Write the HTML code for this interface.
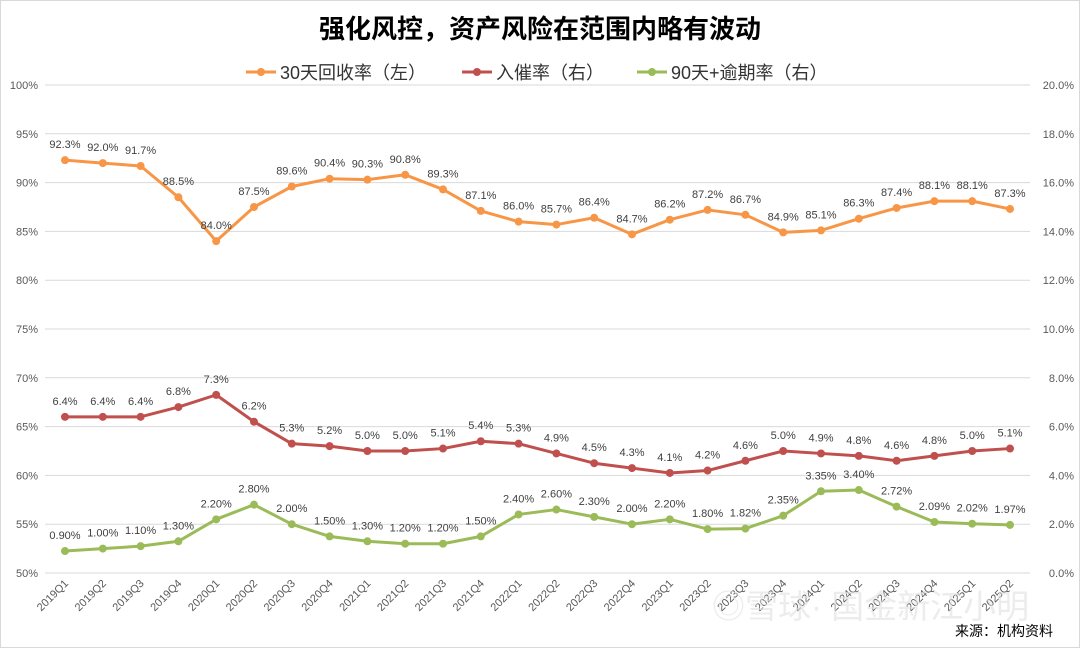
<!DOCTYPE html>
<html><head><meta charset="utf-8">
<style>
body{margin:0;background:#fff;}
svg{display:block;font-family:"Liberation Sans","Noto Sans CJK SC",sans-serif;}
</style></head>
<body>
<svg id="chart" width="1080" height="648">
<rect x="0.5" y="0.5" width="1079" height="647" fill="#fff" stroke="#d9d9d9"/>
<text x="540" y="38" text-anchor="middle" font-size="26" font-weight="bold" fill="#000">强化风控，资产风险在范围内略有波动</text>
<g>
<g><line x1="246" y1="72" x2="276" y2="72" stroke="#F79646" stroke-width="3"/><circle cx="261" cy="72" r="4" fill="#F79646"/><text x="280" y="79" font-size="18" fill="#333">30天回收率（左）</text></g>
<g><line x1="462" y1="72" x2="492" y2="72" stroke="#C0504D" stroke-width="3"/><circle cx="477" cy="72" r="4" fill="#C0504D"/><text x="496" y="79" font-size="18" fill="#333">入催率（右）</text></g>
<g><line x1="637" y1="72" x2="667" y2="72" stroke="#9BBB59" stroke-width="3"/><circle cx="652" cy="72" r="4" fill="#9BBB59"/><text x="671" y="79" font-size="18" fill="#333">90天+逾期率（右）</text></g>
</g>
<g id="grid"></g><g id="axes"></g><g id="series"></g>
<text x="712" y="618" font-size="33" fill="#e0e0e0" opacity="0.6">◎雪球· 国金新江小明</text>
<text x="955" y="636" font-size="14" fill="#000">来源：机构资料</text>
</svg>
<script>
const categories=["2019Q1","2019Q2","2019Q3","2019Q4","2020Q1","2020Q2","2020Q3","2020Q4","2021Q1","2021Q2","2021Q3","2021Q4","2022Q1","2022Q2","2022Q3","2022Q4","2023Q1","2023Q2","2023Q3","2023Q4","2024Q1","2024Q2","2024Q3","2024Q4","2025Q1","2025Q2"];
const recovery30=[92.3,92.0,91.7,88.5,84.0,87.5,89.6,90.4,90.3,90.8,89.3,87.1,86.0,85.7,86.4,84.7,86.2,87.2,86.7,84.9,85.1,86.3,87.4,88.1,88.1,87.3];
const entryRate=[6.4,6.4,6.4,6.8,7.3,6.2,5.3,5.2,5.0,5.0,5.1,5.4,5.3,4.9,4.5,4.3,4.1,4.2,4.6,5.0,4.9,4.8,4.6,4.8,5.0,5.1];
const overdue90=[0.90,1.00,1.10,1.30,2.20,2.80,2.00,1.50,1.30,1.20,1.20,1.50,2.40,2.60,2.30,2.00,2.20,1.80,1.82,2.35,3.35,3.40,2.72,2.09,2.02,1.97];
const leftTicks=[50,55,60,65,70,75,80,85,90,95,100];
const rightTicks=[0,2,4,6,8,10,12,14,16,18,20];
const NS="http://www.w3.org/2000/svg";
const plotTop=85,plotBot=573,x0=65,x1=1010,gx0=45,gx1=1030;
const xs=i=>x0+i*(x1-x0)/(categories.length-1);
const yL=v=>plotBot-(v-50)/50*(plotBot-plotTop);
const yR=v=>plotBot-v/20*(plotBot-plotTop);
function mk(tag,attrs,parent,txt){const e=document.createElementNS(NS,tag);for(const k in attrs)e.setAttribute(k,attrs[k]);if(txt!==undefined)e.textContent=txt;parent.appendChild(e);return e;}
const grid=document.getElementById('grid'),axes=document.getElementById('axes'),series=document.getElementById('series');
leftTicks.forEach(t=>{const y=yL(t);
 const l=mk('line',{x1:gx0,x2:gx1,y1:y,y2:y,stroke:'#d9d9d9','stroke-width':1},grid);
 
 
 const tx=mk('text',{x:38,y:y+4,'text-anchor':'end','font-size':11,fill:'#595959'},axes,t+'%');
 
 
});
rightTicks.forEach(t=>{const y=yR(t);
 const tx=mk('text',{x:1074,y:y+4,'text-anchor':'end','font-size':11,fill:'#595959'},axes,t.toFixed(1)+'%');
 
 
});
categories.forEach((c,i)=>{const x=xs(i)+4,y=584;
 const tx=mk('text',{x:x,y:y,'text-anchor':'end','font-size':11,fill:'#595959',transform:`rotate(-45 ${x} ${y})`},axes,c);
 
 
});
function drawSeries(vals,yf,color,name,fmt){
 const g=mk('g',{},series);
 
 
 const pl=mk('polyline',{points:vals.map((v,i)=>xs(i)+','+yf(v)).join(' '),fill:'none',stroke:color,'stroke-width':3,'stroke-linejoin':'round'},g);
 
 
 vals.forEach((v,i)=>{
  const c=mk('circle',{cx:xs(i),cy:yf(v),r:4,fill:color},g);
  
  
  const t=mk('text',{x:xs(i),y:yf(v)-12,'text-anchor':'middle','font-size':11,fill:'#404040'},g,fmt(v));
  
  
 });
}
drawSeries(recovery30,yL,'#F79646','recovery30',v=>v.toFixed(1)+'%');
drawSeries(entryRate,yR,'#C0504D','entry-rate',v=>v.toFixed(1)+'%');
drawSeries(overdue90,yR,'#9BBB59','overdue90',v=>v.toFixed(2)+'%');
</script>
</body></html>
